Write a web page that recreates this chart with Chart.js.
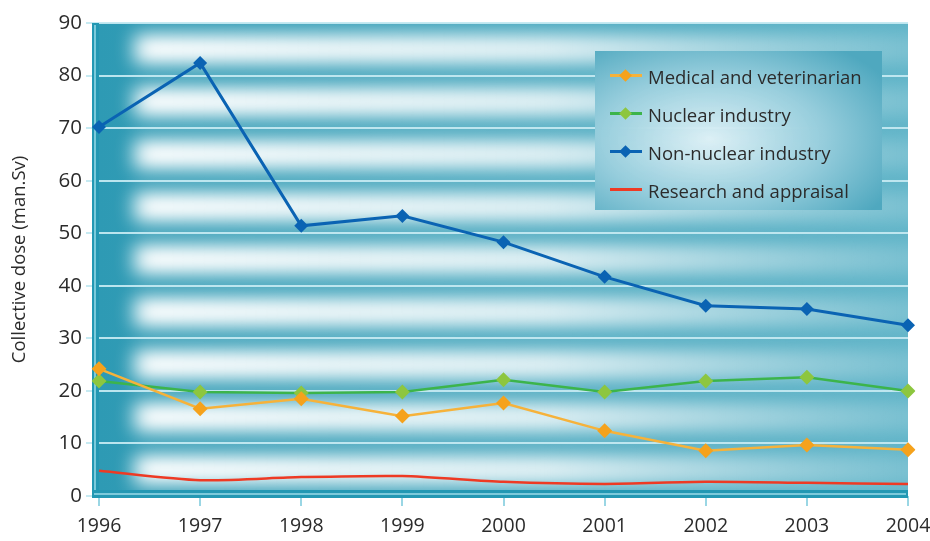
<!DOCTYPE html>
<html>
<head>
<meta charset="utf-8">
<script src="https://cdn.jsdelivr.net/npm/chart.js@4.4.1/dist/chart.umd.min.js"></script>
<style>
  body { margin: 0; background: #fff; }
  .wrap { position: relative; width: 930px; height: 541px; }
  .legend {
    position: absolute; left: 595px; top: 51px; width: 287px; height: 159px;
    background: radial-gradient(ellipse 72% 72% at 40% 55%, rgba(225,242,247,0.95) 0%, rgba(150,205,220,1) 55%, #4fa8bf 100%);
    font-family: "Open Sans", sans-serif; font-size: 18.5px; color: #2b2b2b;
    box-sizing: border-box; padding-top: 6px;
  }
  .item { display: flex; align-items: center; height: 38px; }
  .mark { position: relative; width: 32px; height: 14px; margin-left: 15px; margin-right: 6px; }
  .mark .ln { position: absolute; left: 0; right: 0; top: 5px; height: 3px; }
  .mark .dm { position: absolute; left: 11px; top: 2px; width: 9px; height: 9px; transform: rotate(45deg); }
</style>
</head>
<body>
<div class="wrap">
  <canvas id="myChart" width="930" height="541"></canvas>
  <div class="legend" id="legend"></div>
</div>
<script>
// chart data
const years = ["1996", "1997", "1998", "1999", "2000", "2001", "2002", "2003", "2004"];
const medical = [24.2, 16.6, 18.5, 15.2, 17.7, 12.4, 8.6, 9.7, 8.8];
const nuclear = [21.9, 19.8, 19.6, 19.8, 22.1, 19.8, 21.9, 22.6, 20.0];
const nonNuclear = [70.2, 82.4, 51.4, 53.3, 48.3, 41.7, 36.2, 35.6, 32.5];
const research = [4.8, 3.0, 3.6, 3.8, 2.7, 2.3, 2.7, 2.5, 2.3];
const yTicks = [0, 10, 20, 30, 40, 50, 60, 70, 80, 90];

const seriesNames = ["Medical and veterinarian", "Nuclear industry", "Non-nuclear industry", "Research and appraisal"];
const lineColors = ["#f6b23a", "#3cb44b", "#0a63b3", "#ee3a24"];
const markColors = ["#f5a21c", "#8dc63f", "#0a63b3", null];

// teal background with white glowing bands
const backdrop = {
  id: "backdrop",
  beforeDraw(chart) {
    const { ctx, chartArea: a, scales } = chart;
    const y = scales.y;
    ctx.save();
    const g = ctx.createLinearGradient(a.left, 0, a.right, 0);
    g.addColorStop(0, "#2e9ab4");
    g.addColorStop(1, "#5fb4c8");
    ctx.fillStyle = g;
    ctx.fillRect(a.left, a.top, a.right - a.left, a.bottom - a.top);
    ctx.beginPath();
    ctx.rect(a.left, a.top, a.right - a.left, a.bottom - a.top);
    ctx.clip();
    ctx.filter = "blur(9px)";
    for (let i = 0; i < yTicks.length - 1; i++) {
      const y0 = y.getPixelForValue(yTicks[i + 1]);
      const y1 = y.getPixelForValue(yTicks[i]);
      const mid = (y0 + y1) / 2;
      const w = ctx.createLinearGradient(a.left, 0, a.right, 0);
      w.addColorStop(0, "rgba(255,255,255,0)");
      w.addColorStop(0.06, "rgba(255,255,255,1)");
      w.addColorStop(0.55, "rgba(255,255,255,0.85)");
      w.addColorStop(1, "rgba(255,255,255,0.18)");
      ctx.fillStyle = w;
      ctx.fillRect(a.left + 34, mid - 15, a.right - a.left, 30);
    }
    ctx.restore();
  },
  beforeDatasetsDraw(chart) {
    const { ctx, chartArea: a } = chart;
    ctx.save();
    // left axis bar
    ctx.fillStyle = "#2398b3";
    ctx.fillRect(a.left - 7, a.top, 7, a.bottom - a.top + 2);
    ctx.fillStyle = "#7ccadb";
    ctx.fillRect(a.left - 5, a.top + 2, 2, a.bottom - a.top - 4);
    // bottom axis bar
    ctx.fillStyle = "#2398b3";
    ctx.fillRect(a.left - 7, a.bottom - 6, a.right - a.left + 7, 8);
    ctx.fillStyle = "#7ccadb";
    ctx.fillRect(a.left - 5, a.bottom - 3, a.right - a.left + 3, 2);
    ctx.restore();
  }
};

const datasets = [medical, nuclear, nonNuclear, research].map((vals, i) => ({
  label: seriesNames[i],
  data: vals,
  borderColor: lineColors[i],
  backgroundColor: markColors[i] || lineColors[i],
  borderWidth: i === 2 ? 3 : 2.5,
  pointStyle: "rectRot",
  pointRadius: markColors[i] ? (i === 2 ? 7 : 7.5) : 0,
  pointBorderWidth: 0,
  tension: i === 3 ? 0.25 : 0,
}));

const ctx = document.getElementById("myChart").getContext("2d");
const myChart = new Chart(ctx, {
  type: "line",
  data: { labels: years, datasets: datasets },
  plugins: [backdrop],
  options: {
    responsive: false,
    animation: false,
    layout: { padding: { top: 23, right: 0, left: 0, bottom: 0 } },
    plugins: { legend: { display: false }, tooltip: { enabled: false } },
    scales: {
      x: {
        offset: false,
        afterFit: (s) => { s.height = 45; s.paddingRight = 22; },
        border: { display: false },
        grid: { drawOnChartArea: false, tickLength: 10, color: "#9ad6e4", lineWidth: 2 },
        ticks: { padding: 9, color: "#2b2b2b", font: { family: "Open Sans", size: 19.5 } },
      },
      y: {
        min: 0,
        max: 90,
        afterFit: (s) => { s.width = 99; },
        afterBuildTicks: (s) => { s.ticks = yTicks.map((v) => ({ value: v })); },
        border: { display: false },
        grid: { color: "rgba(195,233,241,0.95)", lineWidth: 2, tickLength: 13 },
        ticks: { padding: 4, color: "#2b2b2b", font: { family: "Open Sans", size: 20.5 } },
        title: {
          display: true,
          text: "Collective dose (man.Sv)",
          color: "#2b2b2b",
          font: { family: "Open Sans", size: 18.5 },
          padding: { top: 9, bottom: 0 },
        },
      },
    },
  },
});

// legend
const legend = document.getElementById("legend");
seriesNames.forEach((name, i) => {
  const item = document.createElement("div");
  item.className = "item";
  const dm = markColors[i] ? `<div class="dm" style="background:${markColors[i]}"></div>` : "";
  item.innerHTML = `<div class="mark"><div class="ln" style="background:${lineColors[i]}"></div>${dm}</div><span>${name}</span>`;
  legend.appendChild(item);
});
</script>
</body>
</html>
